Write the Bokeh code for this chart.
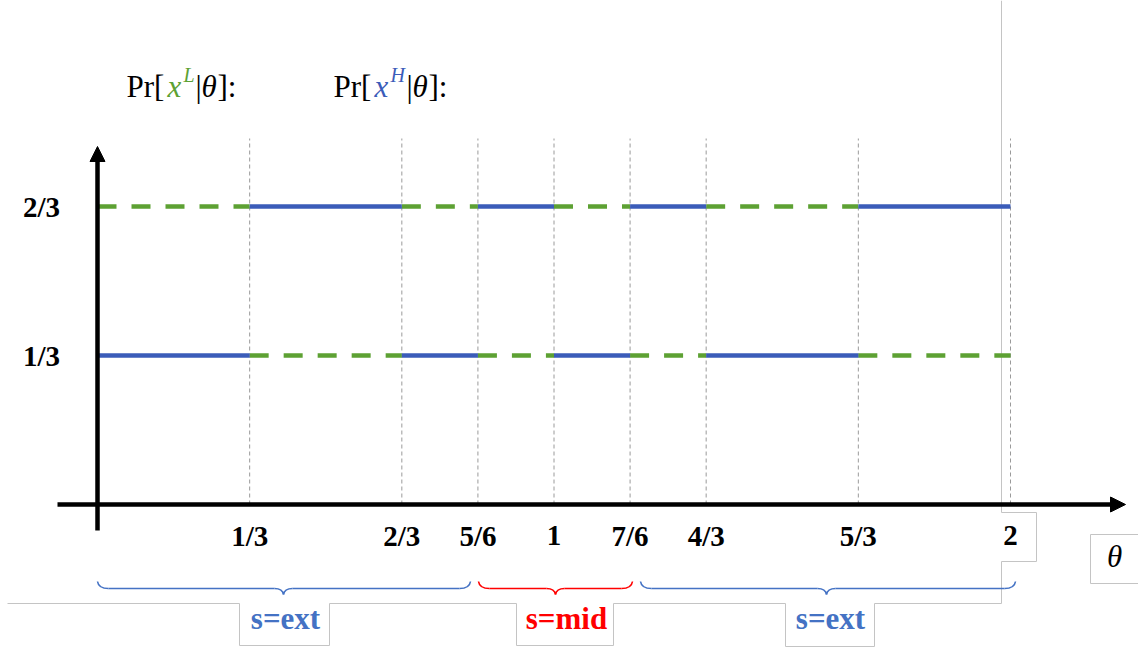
from bokeh.plotting import figure
from bokeh.models import Range1d, Arrow, NormalHead
from bokeh.core.properties import value
from bokeh.embed import file_html
from bokeh.resources import INLINE

# ---------------- data ----------------
theta_breaks = [0, 1/3, 2/3, 5/6, 1, 7/6, 4/3, 5/3, 2]
pr_xH = [1/3, 2/3, 1/3, 2/3, 1/3, 2/3, 1/3, 2/3]   # Pr[x^H | theta] (blue, solid)
pr_xL = [2/3, 1/3, 2/3, 1/3, 2/3, 1/3, 2/3, 1/3]   # Pr[x^L | theta] (green, dashed)
x_tick_values = [1/3, 2/3, 5/6, 1, 7/6, 4/3, 5/3, 2]
x_tick_labels = ["1/3", "2/3", "5/6", "1", "7/6", "4/3", "5/3", "2"]
y_tick_values = [1/3, 2/3]
y_tick_labels = ["1/3", "2/3"]
region_labels = ["s=ext", "s=mid", "s=ext"]

# ---------------- layout ----------------
W, H = 1138, 651
OFF = 0
PXU_X, PXU_Y = 456.5, 447.0
xr0 = -(97 - OFF) / PXU_X
xr1 = xr0 + W / PXU_X
yr1 = (504 - OFF) / PXU_Y
yr0 = yr1 - H / PXU_Y


def X(px):
    return xr0 + (px - OFF) / W * (xr1 - xr0)


def Y(py):
    return yr1 - (py - OFF) / H * (yr1 - yr0)


BLUE = "#3b5cb9"
GREEN = "#5da133"
BRACE_BLUE = "#4472c4"
RED = "#ff0000"
GRAY = "#c4c4c4"
SERIF = value("Liberation Serif")

p = figure(width=W, height=H, x_range=Range1d(xr0, xr1), y_range=Range1d(yr0, yr1),
           x_axis_type=None, y_axis_type=None, output_backend="svg",
           toolbar_location=None, min_border=0, outline_line_color=None,
           background_fill_color="white", border_fill_color="white")
p.grid.visible = False

# text-box outlines (gray)
outline = [(1001, 0), (1001, 512), (1036, 512), (1036, 561), (1001, 561), (1001, 603),
           (874, 603), (874, 646), (785, 646), (785, 603), (613, 603), (613, 645),
           (516, 645), (516, 603), (329, 603), (329, 645), (239, 645), (239, 603), (7, 603)]
p.line([X(a) for a, b in outline], [Y(b) for a, b in outline], line_color=GRAY, line_width=1)
theta_box = [(1140, 534), (1090, 534), (1090, 583), (1140, 583)]
p.line([X(a) for a, b in theta_box], [Y(b) for a, b in theta_box], line_color=GRAY, line_width=1)

# vertical dashed guide lines
p.segment(x0=x_tick_values, y0=[0] * len(x_tick_values), x1=x_tick_values,
          y1=[Y(138)] * len(x_tick_values), line_color="#9a9a9a", line_width=1, line_dash="4 3")

# probability lines
p.segment(x0=theta_breaks[:-1], y0=pr_xL, x1=theta_breaks[1:], y1=pr_xL,
          line_color=GREEN, line_width=4.5, line_dash="19 15", line_cap="butt")
p.segment(x0=theta_breaks[:-1], y0=pr_xH, x1=theta_breaks[1:], y1=pr_xH,
          line_color=BLUE, line_width=4.5, line_cap="butt")

# axes with arrows
p.add_layout(Arrow(end=NormalHead(size=15, fill_color="black", line_color="black", line_width=1),
                   x_start=X(57), y_start=0, x_end=X(1125), y_end=0,
                   line_width=4.5, line_color="black"))
p.add_layout(Arrow(end=NormalHead(size=15, fill_color="black", line_color="black", line_width=1),
                   x_start=0, y_start=Y(530), x_end=0, y_end=Y(146),
                   line_width=4.5, line_color="black"))

# tick labels
p.text(x=x_tick_values, y=[Y(535)] * len(x_tick_values), text=x_tick_labels,
       text_font=SERIF, text_font_style="bold", text_font_size="29px",
       text_align="center", text_baseline="middle", text_color="black")
p.text(x=[X(41)] * len(y_tick_values), y=y_tick_values, text=y_tick_labels,
       text_font=SERIF, text_font_style="bold", text_font_size="29px",
       text_align="center", text_baseline="middle", text_color="black")

# theta axis label
p.text(x=[X(1114)], y=[Y(556)], text=["θ"], text_font=SERIF, text_font_style="italic",
       text_font_size="31px", text_align="center", text_baseline="middle", text_color="black")

# braces
braces = [(97, 470, 283, BRACE_BLUE), (478, 632, 555, RED), (640, 1015, 826, BRACE_BLUE)]
YE, YB, YT, R, RC = 581, 588, 594, 11, 9
for xa, xb, xc, col in braces:
    p.segment(x0=[X(xa + R), X(xc + RC)], y0=[Y(YB), Y(YB)],
              x1=[X(xc - RC), X(xb - R)], y1=[Y(YB), Y(YB)], line_color=col, line_width=1.6)
    p.quadratic(x0=[X(xa), X(xb), X(xc - RC), X(xc + RC)],
                y0=[Y(YE), Y(YE), Y(YB), Y(YB)],
                x1=[X(xa + R), X(xb - R), X(xc), X(xc)],
                y1=[Y(YB), Y(YB), Y(YT), Y(YT)],
                cx=[X(xa + 1), X(xb - 1), X(xc - 1), X(xc + 1)],
                cy=[Y(YB), Y(YB), Y(YB), Y(YB)],
                line_color=col, line_width=1.6)

# region labels
label_pos = [285, 566, 830]
label_col = [BRACE_BLUE, RED, BRACE_BLUE]
for txt, cx, col in zip(region_labels, label_pos, label_col):
    p.text(x=[X(cx)], y=[Y(618)], text=[txt], text_font=SERIF, text_font_style="bold",
           text_font_size="31px", text_align="center", text_baseline="middle", text_color=col)

# titles: Pr[x^L|θ]:   Pr[x^H|θ]:
BASE, SUP = 86, 74


def piece(txt, px, py, size, style, col):
    p.text(x=[X(px)], y=[Y(py)], text=[txt], text_font=SERIF, text_font_style=style,
           text_font_size=size, text_align="left", text_baseline="alphabetic", text_color=col)


for start, sup, col in [(126, "L", GREEN), (333, "H", BLUE)]:
    o = start - 126
    d = 4 if sup == "H" else 0
    piece("Pr[", 126 + o, BASE, "31px", "normal", "black")
    piece("x", 167 + o, BASE, "31px", "italic", col)
    piece(sup, 183 + o, SUP, "20px", "italic", col)
    piece("|", 195 + o + d, BASE, "31px", "normal", "black")
    piece("θ", 201 + o + d, BASE, "31px", "italic", "black")
    piece("]:", 217 + o + d, BASE, "31px", "normal", "black")

open("out.html", "w").write(file_html(p, INLINE))
